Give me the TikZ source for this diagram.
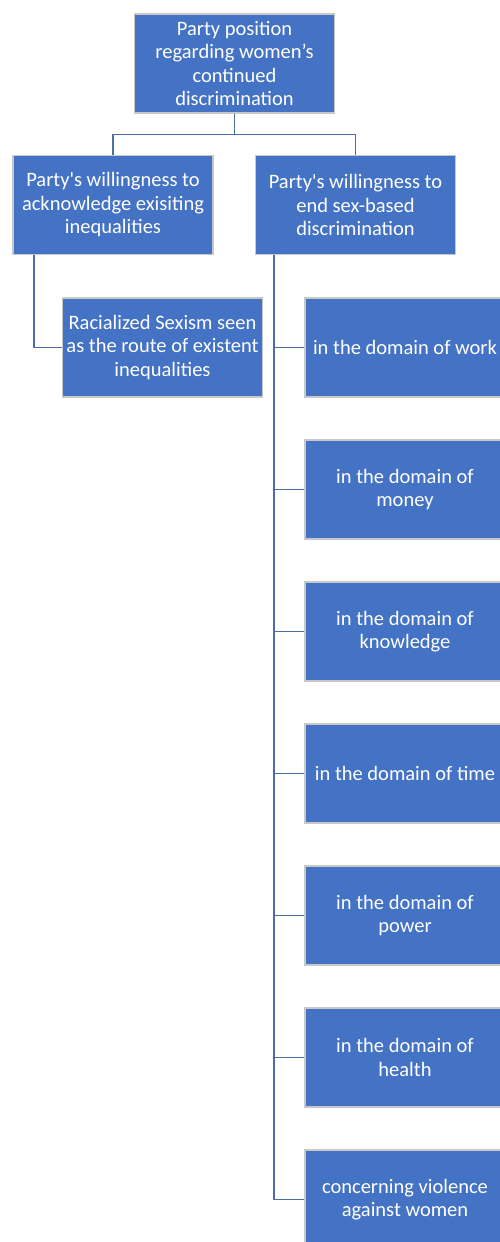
\documentclass[tikz,border=0pt]{standalone}
\usepackage{fontspec}
\setmainfont{Carlito}
\usepackage{xcolor}

\definecolor{boxblue}{HTML}{4472C4}
\definecolor{boxedge}{RGB}{200,200,200}
\definecolor{linkblue}{RGB}{78,108,168}

\tikzset{
  box/.style={rectangle, fill=boxblue, draw=boxedge, line width=1.2pt,
    minimum width=200pt, minimum height=99pt, inner sep=2pt,
    text=white, align=center, font=\fontsize{20.5}{23.5}\selectfont},
  link/.style={draw=linkblue, line width=1.4pt}
}

\begin{document}
\begin{tikzpicture}[x=1pt,y=-1pt]
            \clip (0,0) rectangle (500,1242);
            \node (top) at (234.5,63.5) [box] {Party position\\regarding women’s\\continued\\discrimination};
            \node (ack) at (113,205) [box] {Party\textquotesingle s willingness to\\acknowledge exisiting\\inequalities};
            \node (end) at (355.5,205) [box] {Party\textquotesingle s willingness to\\end sex-based\\discrimination};
            \node (race) at (162.5,347.5) [box] {Racialized Sexism seen\\as the route of existent\\inequalities};
            \node (work) at (405,347.5) [box] {in the domain of work};
            \node (money) at (405,489.5) [box] {in the domain of\\money};
            \node (know) at (405,631.5) [box] {in the domain of\\knowledge};
            \node (time) at (405,773.5) [box] {in the domain of time};
            \node (power) at (405,915.5) [box] {in the domain of\\power};
            \node (health) at (405,1057.5) [box] {in the domain of\\health};
            \node (viol) at (405,1199.5) [box] {concerning violence\\against women};
            \draw[link] (top.south) -- ++(0,21) -| (ack.north);
            \draw[link] (top.south) -- ++(0,21) -| (end.north);
            \draw[link] ([xshift=-79pt]ack.south) |- (race.west);
            \foreach \d in {work,money,know,time,power,health,viol}
                \draw[link] ([xshift=-81.5pt]end.south) |- (\d.west);
        \end{tikzpicture}
\end{document}
